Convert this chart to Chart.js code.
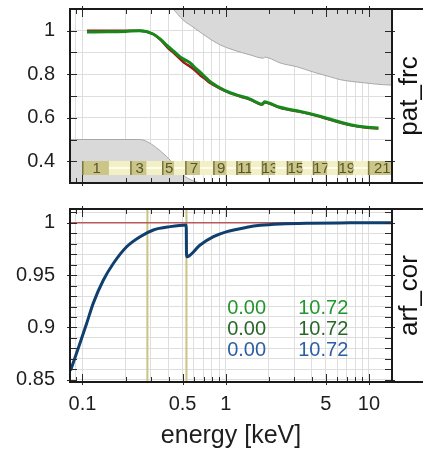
<!DOCTYPE html>
<html><head><meta charset="utf-8">
<script src="https://cdn.jsdelivr.net/npm/chart.js@4.4.1/dist/chart.umd.min.js"></script>
<style>
html,body{margin:0;padding:0;background:#fff;overflow:hidden}
#wrap{position:relative;width:423px;height:453px}
canvas{position:absolute;left:0}
#c1{top:0}
#c2{top:195px}
</style></head><body>
<div id="wrap"><canvas id="c1" width="423" height="195"></canvas><canvas id="c2" width="423" height="258"></canvas></div>
<script>
// ---------- data ----------
const xMin = 0.0818, xMax = 14.5;
const xGridTicks = [0.09,0.1,0.2,0.3,0.4,0.5,0.6,0.7,0.8,0.9,1,2,3,4,5,6,7,8,9,10];
const xLabelTicks = [0.1,0.5,1,5,10];

const patMin = 0.3, patMax = 1.1;
const patTicks = [0.3,0.4,0.5,0.6,0.7,0.8,0.9,1,1.1];
const patLabelTicks = [0.4,0.6,0.8,1];

const arfMin = 0.848, arfMax = 1.013;
const arfTicks = [0.85,0.86,0.87,0.88,0.89,0.9,0.91,0.92,0.93,0.94,0.95,0.96,0.97,0.98,0.99,1,1.01];
const arfLabelTicks = [0.85,0.9,0.95,1];

const patEnergy = [0.1075,0.15,0.2,0.252,0.311,0.348,0.39,0.435,0.481,0.52,0.565,0.61,0.663,0.72,0.779,0.915,1.075,1.263,1.48,1.74,1.8,1.87,2.0,2.4,3.32,4.2,5.38,7.42,9.75,11.65];
const patRed   = [1.0,1.0,1.0,1.0,0.985,0.960,0.925,0.897,0.870,0.850,0.835,0.818,0.795,0.778,0.760,0.734,0.713,0.698,0.684,0.662,0.661,0.671,0.666,0.646,0.627,0.611,0.591,0.566,0.554,0.551];
const patGreen = [0.994,0.995,0.997,1.0,0.985,0.963,0.932,0.905,0.880,0.866,0.852,0.830,0.810,0.787,0.766,0.737,0.715,0.700,0.686,0.664,0.663,0.673,0.668,0.648,0.629,0.613,0.593,0.568,0.556,0.553];

const envUpperE = [0.43,0.505,0.592,0.742,0.915,1.128,1.48,1.83,1.87,1.98,2.4,3.16,4.09,5.38,6.32,9.16,12.6,14.6];
const envUpperV = [1.1,1.049,1.017,0.971,0.935,0.912,0.889,0.874,0.878,0.876,0.852,0.834,0.81,0.788,0.775,0.761,0.752,0.75];
const envLowerE = [0.0818,0.25,0.281,0.33,0.385,0.444,0.521,0.612,0.66];
const envLowerV = [0.5,0.5,0.491,0.461,0.423,0.38,0.33,0.307,0.30];

const binEdges = [0.1,0.153,0.217,0.28,0.362,0.436,0.525,0.663,0.824,1.016,1.194,1.508,1.80,2.22,2.69,3.43,4.09,5.13,6.12,7.79,9.92,15];

const arfEnergy = [0.0825,0.096,0.107,0.1188,0.1397,0.1641,0.2034,0.2526,0.3127,0.409,0.53,0.533,0.663,0.822,1.02,1.406,1.743,2.41,3.9,7.4,14.5];
const arfCor    = [0.859,0.885,0.904,0.923,0.945,0.961,0.977,0.9866,0.993,0.9962,0.9977,0.9675,0.9787,0.9866,0.9914,0.9956,0.9975,0.9988,0.9995,0.9998,1.0];

const edgeEnergies = [0.284,0.532];
const refLevel = 1.0;

const annRows = [['0.00','10.72'],['0.00','10.72'],['0.00','10.72']];
const annColors = ['#22962e','#2a662a','#2c5fa6'];

// ---------- helpers ----------
const FONT = '"Liberation Sans", Arial, Helvetica, sans-serif';
Chart.defaults.font.family = FONT;
Chart.defaults.color = '#1e1e1e';
const pts = (xs, ys) => xs.map((v, i) => ({x: v, y: ys[i]}));

const framePlugin = {
  id: 'frame',
  afterDraw(chart, args, opts) {
    const {ctx, chartArea: a, scales: {x, y}} = chart;
    const W = chart.width;
    ctx.save();
    ctx.strokeStyle = '#2a2a2a'; ctx.lineWidth = 1;
    ctx.beginPath();
    xGridTicks.forEach(v => {
      const px = Math.round(x.getPixelForValue(v)) + 0.5;
      if (px < a.left + 1 || px > a.right - 1) return;
      const major = xLabelTicks.includes(v);
      const inLen = major ? 8 : 5, outLen = major ? 3 : 0;
      ctx.moveTo(px, a.bottom + outLen); ctx.lineTo(px, a.bottom - inLen);
      ctx.moveTo(px, a.top - outLen); ctx.lineTo(px, a.top + inLen);
    });
    opts.yTicks.forEach(v => {
      const py = Math.round(y.getPixelForValue(v)) + 0.5;
      if (py < a.top + 1 || py > a.bottom - 1) return;
      const major = opts.yMajor.includes(v);
      const outLen = major ? 3 : 0;
      ctx.moveTo(a.left - outLen, py); ctx.lineTo(a.left + 7, py);
      ctx.moveTo(a.right + outLen, py); ctx.lineTo(a.right - 7, py);
    });
    ctx.stroke();
    ctx.lineWidth = 2; ctx.strokeStyle = '#1a1a1a';
    ctx.beginPath();
    ctx.moveTo(a.left - 1, a.top); ctx.lineTo(W, a.top);
    ctx.moveTo(a.left - 1, a.bottom); ctx.lineTo(W, a.bottom);
    ctx.moveTo(a.left, a.top); ctx.lineTo(a.left, a.bottom);
    ctx.moveTo(a.right, a.top); ctx.lineTo(a.right, a.bottom);
    ctx.stroke();
    ctx.fillStyle = '#111';
    ctx.font = '26px ' + FONT;
    ctx.translate(417, (a.top + a.bottom) / 2);
    ctx.rotate(-Math.PI / 2);
    ctx.textAlign = 'center'; ctx.textBaseline = 'alphabetic';
    ctx.fillText(opts.label, 0, 0);
    ctx.restore();
  }
};

const binPlugin = {
  id: 'bins',
  afterDatasetsDraw(chart) {
    const {ctx, chartArea: a, scales: {x, y}} = chart;
    const yt = Math.round(y.getPixelForValue(0.403));
    const yb = Math.round(y.getPixelForValue(0.339));
    ctx.save();
    ctx.beginPath(); ctx.rect(a.left, a.top, a.right - a.left, a.bottom - a.top); ctx.clip();
    for (let i = 0; i < binEdges.length - 1; i++) {
      const x0 = x.getPixelForValue(binEdges[i]);
      const x1 = x.getPixelForValue(binEdges[i + 1]);
      const odd = (i % 2 === 0);
      ctx.fillStyle = odd ? '#cbc687' : '#f3f0c6';
      ctx.fillRect(x0, yt, x1 - x0, yb - yt);
      if (!odd) {
        ctx.fillStyle = '#ffffff';
        ctx.fillRect(x0, (yt + yb) / 2 - 0.75, x1 - x0, 1.5);
      } else {
        ctx.fillStyle = '#7a7640';
        ctx.fillRect(x0 - 0.5, yt, 1.5, yb - yt);
        ctx.fillStyle = '#55542a';
        ctx.font = '15px ' + FONT;
        ctx.textAlign = 'center'; ctx.textBaseline = 'middle';
        ctx.fillText(String(i + 1), (x0 + x1) / 2 + 1, (yt + yb) / 2 + 1);
      }
    }
    ctx.restore();
  }
};

const annPlugin = {
  id: 'ann',
  afterDatasetsDraw(chart) {
    const {ctx, scales: {x, y}} = chart;
    const xa = x.getPixelForValue(1.024), xb = x.getPixelForValue(3.21);
    const yv = [0.918, 0.8984, 0.8778];
    ctx.save();
    ctx.font = '20px ' + FONT;
    ctx.textAlign = 'left'; ctx.textBaseline = 'middle';
    annRows.forEach((r, i) => {
      ctx.fillStyle = annColors[i];
      const py = y.getPixelForValue(yv[i]);
      ctx.fillText(r[0], xa, py);
      ctx.fillText(r[1], xb, py);
    });
    ctx.restore();
  }
};

const gridColor = '#dedede';
function xScale(showLabels, height) {
  return {
    type: 'logarithmic', min: xMin, max: xMax,
    afterBuildTicks: s => { s.ticks = xGridTicks.map(v => ({value: v})); },
    afterFit: s => { s.height = height; s.paddingLeft = 0; s.paddingRight = 0; },
    ticks: {
      display: showLabels, autoSkip: false, maxRotation: 0, padding: 10,
      font: {size: 20}, color: '#1e1e1e',
      callback: v => xLabelTicks.includes(v) ? String(v) : ''
    },
    grid: {color: gridColor, lineWidth: 1, drawTicks: false},
    border: {display: false},
    title: showLabels ? {display: true, text: 'energy [keV]', font: {size: 25}, color: '#1e1e1e', padding: {top: 0, bottom: 2}} : {display: false}
  };
}
function yScale(mn, mx, ticks, labels) {
  return {
    type: 'linear', min: mn, max: mx,
    afterBuildTicks: s => { s.ticks = ticks.map(v => ({value: v})); },
    afterFit: s => { s.width = 70; s.paddingTop = 0; s.paddingBottom = 0; },
    ticks: {
      autoSkip: false, padding: 15, font: {size: 20}, color: '#1e1e1e',
      callback: v => labels.includes(v) ? String(v) : ''
    },
    grid: {color: gridColor, lineWidth: 1, drawTicks: false},
    border: {display: false}
  };
}

const common = {
  responsive: false, animation: false, events: [],
  plugins: {legend: {display: false}, tooltip: {enabled: false}},
  elements: {point: {radius: 0}}
};

new Chart(document.getElementById('c1'), {
  type: 'line',
  data: {datasets: [
    {data: pts(patEnergy, patGreen), borderColor: '#17891b', borderWidth: 3, cubicInterpolationMode: 'monotone', fill: false, order: 0},
    {data: pts(patEnergy, patRed), borderColor: '#9b1c1c', borderWidth: 2.5, cubicInterpolationMode: 'monotone', fill: false, order: 1},
    {data: pts(envUpperE, envUpperV), borderColor: '#a8a8a8', borderWidth: 1, backgroundColor: '#d9d9d9', fill: 'end', cubicInterpolationMode: 'monotone', order: 5},
    {data: pts(envLowerE, envLowerV), borderColor: '#a8a8a8', borderWidth: 1, backgroundColor: '#d9d9d9', fill: 'start', cubicInterpolationMode: 'monotone', order: 6}
  ]},
  options: Object.assign({}, common, {
    layout: {padding: {top: 9, right: 31, left: 0, bottom: 0}},
    scales: {x: xScale(false, 12), y: yScale(patMin, patMax, patTicks, patLabelTicks)},
    plugins: Object.assign({}, common.plugins, {frame: {label: 'pat_frc', yTicks: patTicks, yMajor: patLabelTicks}})
  }),
  plugins: [binPlugin, framePlugin]
});

const edgeSets = edgeEnergies.map(e => ({
  data: [{x: e, y: arfMin}, {x: e, y: arfMax}], borderColor: '#c9c482', borderWidth: 2, fill: false, order: 3
}));

new Chart(document.getElementById('c2'), {
  type: 'line',
  data: {datasets: [
    {data: pts(arfEnergy, arfCor), borderColor: '#0f3f6e', borderWidth: 3, cubicInterpolationMode: 'monotone', fill: false, order: 0},
    {data: [{x: xMin, y: refLevel}, {x: xMax, y: refLevel}], borderColor: '#b85a5a', borderWidth: 1.5, fill: false, order: 1}
  ].concat(edgeSets)},
  options: Object.assign({}, common, {
    layout: {padding: {top: 14, right: 31, left: 0, bottom: 0}},
    scales: {x: xScale(true, 71), y: yScale(arfMin, arfMax, arfTicks, arfLabelTicks)},
    plugins: Object.assign({}, common.plugins, {frame: {label: 'arf_cor', yTicks: arfTicks, yMajor: arfLabelTicks}})
  }),
  plugins: [annPlugin, framePlugin]
});
</script>
</body></html>
